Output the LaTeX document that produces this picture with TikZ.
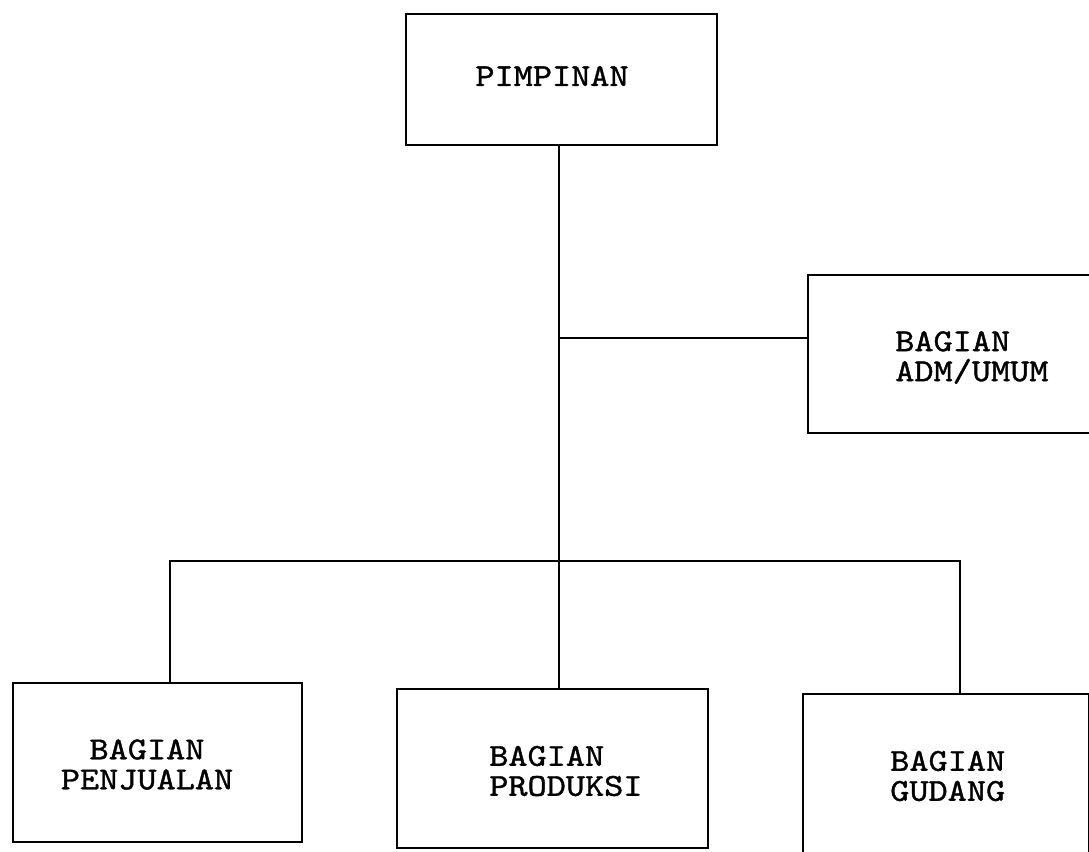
\documentclass[tikz,border=0pt]{standalone}
\usepackage{fontspec}
\setmonofont[FakeStretch=1.14,FakeBold=1.2]{lmmono10-regular.otf}
\usetikzlibrary{fit}
\begin{document}
\begin{tikzpicture}[x=0.75pt,y=-0.75pt,
  box/.style={draw=black,line width=2.2pt,inner sep=0pt,fit={#1}},
  lbl/.style={inner sep=0pt,font=\ttfamily\fontsize{24}{22.5}\selectfont},
  conn/.style={draw=black,line width=2.2pt,line cap=rect}]
\clip (0,0) rectangle (1089,851);
\fill[white] (0,0) rectangle (1089,851);
% boxes
\node[box={(406,14) (717,145)}] (pim) {};
\node[box={(808,275) (1100,433)}] (adm) {};
\node[box={(13,683) (302,842)}] (pen) {};
\node[box={(397,689) (708,848)}] (pro) {};
\node[box={(803,694) (1089.5,880)}] (gud) {};
% labels
\node[lbl] (tpim) at (552,76) {PIMPINAN};
\node[lbl,anchor=west,align=left] (tadm) at (895,357.5) {BAGIAN\\ADM/UMUM};
\node[lbl,align=center] (tpen) at (147,764.5) {BAGIAN\\PENJUALAN};
\node[lbl,anchor=west,align=left] (tpro) at (489,771) {BAGIAN\\PRODUKSI};
\node[lbl,anchor=west,align=left] (tgud) at (890,776) {BAGIAN\\GUDANG};
% junctions
\coordinate (j1) at (559,338);
\coordinate (j2) at (559,561);
\coordinate (bl) at (170,561);
\coordinate (br) at (960,561);
% connectors
\draw[conn] (pim.south -| j1) -- (j1) -- (j2) -- (j2 |- pro.north);
\draw[conn] (j1) -- (adm.west |- j1);
\draw[conn] (bl) -- (br);
\draw[conn] (bl) -- (bl |- pen.north);
\draw[conn] (br) -- (br |- gud.north);
\end{tikzpicture}
\end{document}
